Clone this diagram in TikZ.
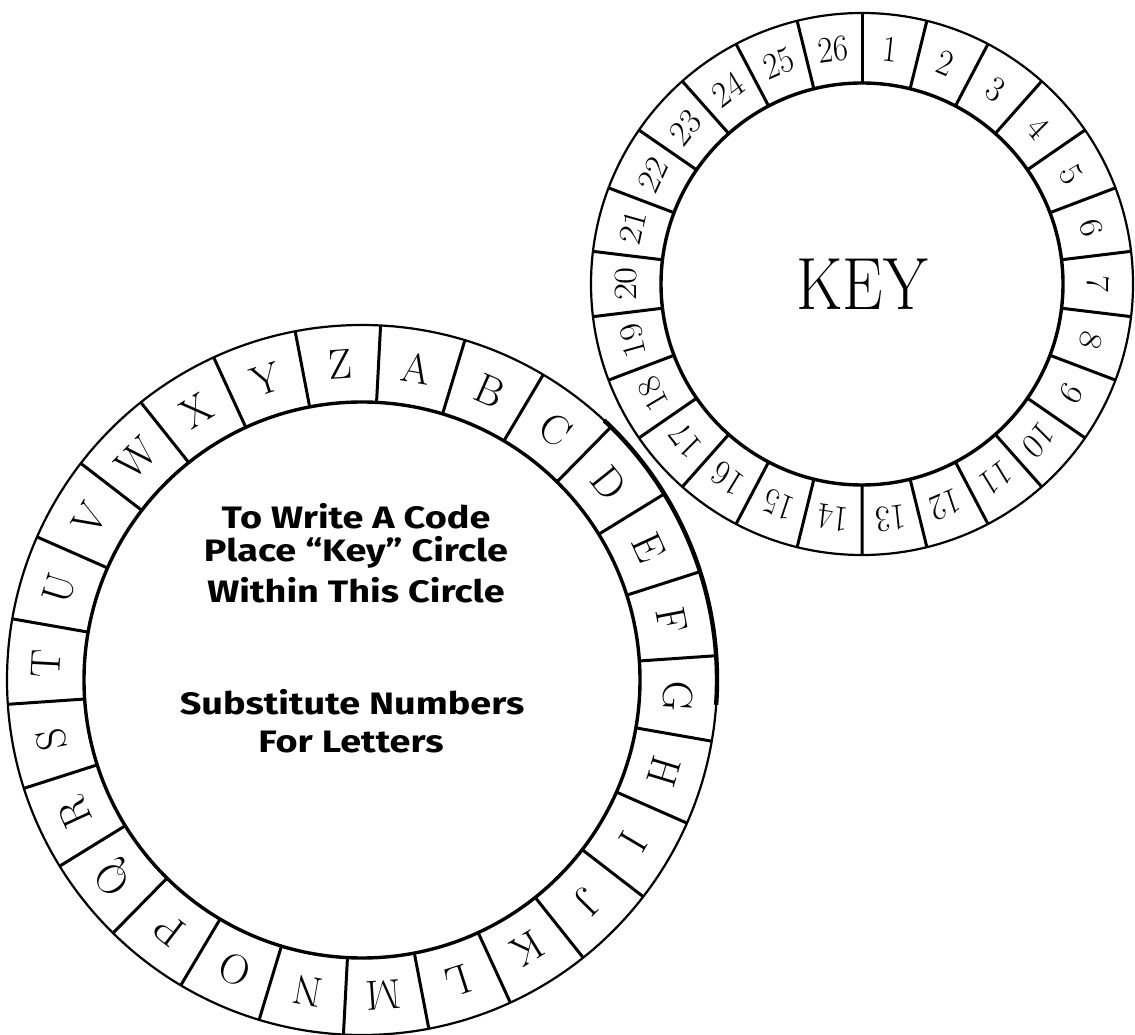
\documentclass[tikz,border=0pt]{standalone}
\usepackage{fontspec}
\newfontfamily\handfont{Fira Sans}
\begin{document}
\begin{tikzpicture}[x=0.5pt,y=0.5pt,
  ring/.style={line width=1.7pt},
  rim/.style={line width=1.1pt},
  divider/.style={line width=1.5pt},
  letter/.style={font=\fontsize{21}{22}\selectfont, inner sep=0pt},
  numeral/.style={font=\fontsize{18.5}{19}\selectfont, xscale=0.88, inner sep=0pt},
  hand/.style={font=\handfont\bfseries\fontsize{15.5}{16}\selectfont, xscale=1.22, inner sep=0pt}]
\useasboundingbox (0,0) rectangle (1135,1034);
% big letter wheel
\coordinate (bc) at (362,354);
\draw[ring] (bc) circle[radius=139pt];
\draw[rim] (bc) circle[radius=177.5pt];
\draw[line width=2.2pt] ([shift={(47:355)}]bc) arc[start angle=47, end angle=-4, radius=177.5pt];
\foreach \k in {0,...,25}{
  \pgfmathsetmacro\a{87-13.846*\k}
  \draw[divider] ([shift={(\a:278)}]bc) -- ([shift={(\a:355)}]bc);
}
\foreach \L [count=\i from 0] in {A,B,C,D,E,F,G,H,I,J,K,L,M,N,O,P,Q,R,S,T,U,V,W,X,Y,Z}{
  \pgfmathsetmacro\a{80.077-13.846*\i}
  \pgfmathsetmacro\r{\a-90}
  \node[letter, rotate=\r] (L\L) at ([shift={(\a:316)}]bc) {\L};
}
\node[hand] (t1) at (356,518) {To Write A Code};
\node[hand] (t2) at (356,482) {Place “Key” Circle};
\node[hand] (t3) at (356,444) {Within This Circle};
\node[hand] (t4) at (352,332) {Substitute Numbers};
\node[hand] (t5) at (351,292) {For Letters};
% small key wheel
\coordinate (sc) at (862,750);
\draw[ring] (sc) circle[radius=100.5pt];
\draw[rim] (sc) circle[radius=135.5pt];
\foreach \k in {0,...,25}{
  \pgfmathsetmacro\a{90-13.846*\k}
  \draw[divider] ([shift={(\a:201)}]sc) -- ([shift={(\a:271)}]sc);
}
\foreach \n in {1,...,26}{
  \pgfmathsetmacro\a{90-13.846*(\n-0.5)}
  \pgfmathsetmacro\r{\a-90}
  \node[numeral, rotate=\r] (N\n) at ([shift={(\a:236)}]sc) {\n};
}
\node[font=\fontsize{37}{40}\selectfont, xscale=0.87, inner sep=0pt] (key) at (sc) {KEY};
\end{tikzpicture}
\end{document}
